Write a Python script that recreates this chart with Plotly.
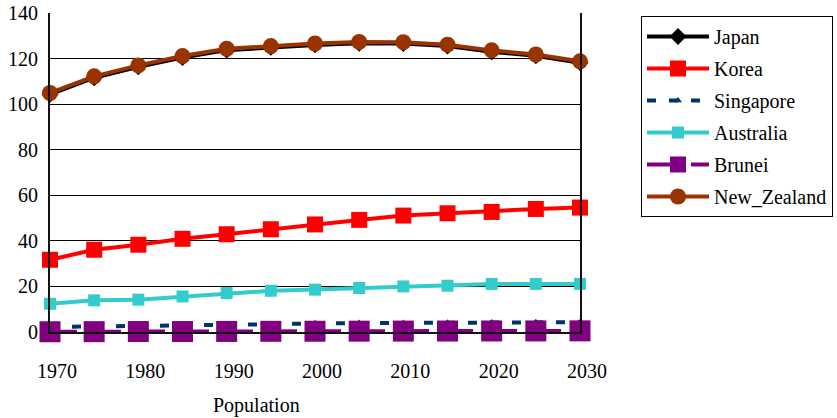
import plotly.graph_objects as go

# Years on the category axis
years = [1970, 1975, 1980, 1985, 1990, 1995, 2000, 2005, 2010, 2015, 2020, 2025, 2030]
year_ticks = [1970, 1980, 1990, 2000, 2010, 2020, 2030]
y_ticks = [0, 20, 40, 60, 80, 100, 120, 140]

# Series values
japan = [104.3, 111.6, 116.4, 120.5, 123.7, 124.9, 126.0, 126.7, 126.6, 125.5, 123.0, 121.2, 118.2]
korea = [31.7, 36.1, 38.3, 40.9, 42.9, 45.1, 47.2, 49.2, 51.1, 52.1, 52.7, 54.0, 54.6]
singapore = [2.2, 2.4, 2.5, 2.8, 3.1, 3.4, 3.8, 3.9, 4.0, 4.1, 4.2, 4.3, 4.3]
australia = [12.4, 13.9, 14.2, 15.6, 17.1, 18.1, 18.6, 19.3, 20.0, 20.3, 21.1, 21.1, 21.1]
brunei = [0.1, 0.15, 0.2, 0.2, 0.25, 0.3, 0.33, 0.36, 0.4, 0.42, 0.45, 0.47, 0.5]
new_zealand = [104.9, 112.2, 117.0, 121.1, 124.3, 125.5, 126.6, 127.3, 127.2, 126.1, 123.6, 121.8, 118.8]

FONT = "Liberation Serif"
FS = 20

series = [
    dict(name="Japan", y=japan, color="#000000", symbol="diamond", size=13, dash="solid"),
    dict(name="Korea", y=korea, color="#FF0000", symbol="square", size=16, dash="solid"),
    dict(name="Singapore", y=singapore, color="#003366", symbol="triangle-up", size=7, dash="9px,13px"),
    dict(name="Australia", y=australia, color="#33CCCC", symbol="square", size=12, dash="solid"),
    dict(name="Brunei", y=brunei, color="#800080", symbol="square", size=21, dash="27px,17px"),
    dict(name="New_Zealand", y=new_zealand, color="#993300", symbol="circle", size=16, dash="solid"),
]

fig = go.Figure()
for s in series:
    fig.add_trace(go.Scatter(
        x=years, y=s["y"], name=s["name"], mode="lines+markers",
        legendgroup=s["name"],
        line=dict(color=s["color"], width=4, dash=s["dash"]),
        marker=dict(color=s["color"], symbol=s["symbol"], size=s["size"],
                    line=dict(width=0)),
        cliponaxis=False,
    ))

fig.update_layout(
    template="none",
    width=837, height=418,
    margin=dict(l=50, r=257, t=13, b=86, autoexpand=False),
    paper_bgcolor="white", plot_bgcolor="white",
    font=dict(family=FONT, size=FS, color="black"),
    showlegend=True,
    legend=dict(
        x=(641 - 50) / 530, y=1 - (16 - 13) / 319,
        xanchor="left", yanchor="top",
        bordercolor="black", borderwidth=1,
        bgcolor="white",
        font=dict(family=FONT, size=FS, color="black"),
        itemwidth=62,
        tracegroupgap=3,
        traceorder="grouped",
    ),
    annotations=[dict(
        text="Population", xref="paper", yref="paper",
        x=(256 - 50) / 530, y=-(405 - 332) / 319,
        xanchor="center", yanchor="middle", showarrow=False,
        font=dict(family=FONT, size=FS, color="black"),
    )],
)

fig.update_xaxes(
    range=[1970, 2030], tickvals=year_ticks,
    automargin=False,
    showgrid=False, zeroline=False,
    showline=True, linecolor="#111111", linewidth=2,
    ticks="outside", ticklen=20, tickcolor="rgba(0,0,0,0)",
    ticklabelshift=7,
    tickfont=dict(family=FONT, size=FS, color="black"),
)
fig.update_yaxes(
    range=[0, 140], tickvals=y_ticks,
    automargin=False,
    showgrid=True, gridcolor="#000000", gridwidth=1,
    zeroline=False,
    showline=True, linecolor="#111111", linewidth=2, mirror=True,
    ticks="outside", ticklen=6, tickcolor="rgba(0,0,0,0)",
    tickfont=dict(family=FONT, size=FS, color="black"),
)

fig.write_html("out.html")
